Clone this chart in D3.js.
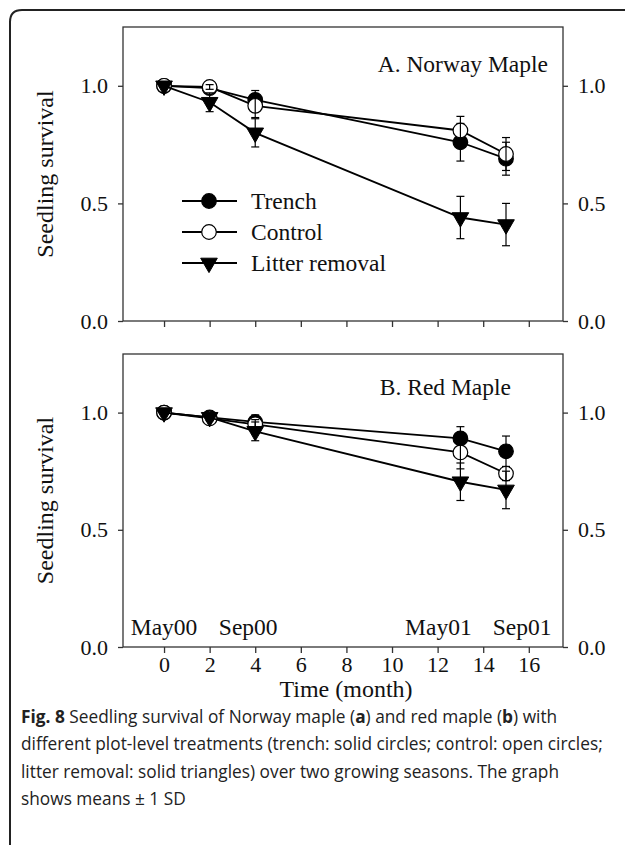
<!DOCTYPE html>
<html>
<head>
<meta charset="utf-8">
<script src="https://cdn.jsdelivr.net/npm/d3@7"></script>
<style>
  html, body { margin: 0; padding: 0; background: #fff; }
  svg { display: block; }
</style>
</head>
<body>
<svg id="fig" width="625" height="845"></svg>
<script>
// Sampling times (months since May 2000)
const months = [0, 2, 4, 13, 15];
const seriesNames = ["Trench", "Control", "Litter removal"];
const yTicks = [0, 0.5, 1.0];
const xTicks = [0, 2, 4, 6, 8, 10, 12, 14, 16];
const seasonLabels = ["May00", "Sep00", "May01", "Sep01"];
const seasonMonths = [0, 4, 13, 15];

// A. Norway maple: mean survival and SD
const norwayTrench = [1.00, 0.99, 0.94, 0.76, 0.69];
const norwayTrenchSD = [0, 0.01, 0.04, 0.08, 0.07];
const norwayControl = [1.00, 0.995, 0.915, 0.81, 0.71];
const norwayControlSD = [0, 0.01, 0.05, 0.06, 0.07];
const norwayLitter = [1.00, 0.93, 0.80, 0.44, 0.41];
const norwayLitterSD = [0, 0.04, 0.06, 0.09, 0.09];

// B. Red maple: mean survival and SD
const redTrench = [1.00, 0.98, 0.96, 0.89, 0.835];
const redTrenchSD = [0, 0.01, 0.03, 0.05, 0.065];
const redControl = [1.00, 0.975, 0.95, 0.83, 0.74];
const redControlSD = [0, 0.01, 0.02, 0.07, 0.03];
const redLitter = [1.00, 0.98, 0.92, 0.705, 0.67];
const redLitterSD = [0, 0.01, 0.04, 0.08, 0.08];

const serif = "'Liberation Serif', 'Times New Roman', Times, serif";
const svg = d3.select("#fig");

// Figure frame with rounded corner
svg.append("path")
  .attr("d", "M10,845 V22 Q10,10 22,10 H625")
  .attr("fill", "none").attr("stroke", "#222").attr("stroke-width", 2);

const x = d3.scaleLinear().domain([-1.8, 17.5]).range([123, 563]);

const panels = [
  { title: "A. Norway Maple", titleX: 548, titleY: 72, top: 27, bottom: 321,
    series: [
      { mean: norwayTrench, sd: norwayTrenchSD, shape: "filled" },
      { mean: norwayControl, sd: norwayControlSD, shape: "open" },
      { mean: norwayLitter, sd: norwayLitterSD, shape: "triangle" } ],
    xLabels: false, legend: true },
  { title: "B. Red Maple", titleX: 511, titleY: 395, top: 354, bottom: 647,
    series: [
      { mean: redTrench, sd: redTrenchSD, shape: "filled" },
      { mean: redControl, sd: redControlSD, shape: "open" },
      { mean: redLitter, sd: redLitterSD, shape: "triangle" } ],
    xLabels: true, legend: false }
];

const triangle = d3.symbol().type(d3.symbolTriangle).size(120);

function drawMarker(g, shape, cx, cy) {
  if (shape === "triangle") {
    g.append("path").attr("d", triangle())
      .attr("transform", `translate(${cx},${cy}) rotate(180)`)
      .attr("fill", "#000").attr("stroke", "#000").attr("stroke-width", 1);
  } else {
    g.append("circle").attr("cx", cx).attr("cy", cy).attr("r", 7.3)
      .attr("fill", shape === "filled" ? "#000" : "#fff")
      .attr("stroke", "#000").attr("stroke-width", 1.2);
  }
}

panels.forEach(p => {
  const y = d3.scaleLinear().domain([0, 1.25]).range([p.bottom, p.top]);
  const g = svg.append("g");

  // Frame of the plotting area
  g.append("rect").attr("x", x.range()[0]).attr("y", p.top)
    .attr("width", x.range()[1] - x.range()[0]).attr("height", p.bottom - p.top)
    .attr("fill", "none").attr("stroke", "#333").attr("stroke-width", 1.3);

  const styleAxis = a => {
    a.select(".domain").remove();
    a.selectAll("line").attr("stroke", "#333").attr("stroke-width", 1.3);
    a.selectAll("text").attr("font-family", serif).attr("font-size", 22).attr("fill", "#111");
  };

  g.append("g").attr("transform", `translate(${x.range()[0]},0)`)
    .call(d3.axisLeft(y).tickValues(yTicks).tickFormat(d3.format(".1f")).tickSize(5).tickPadding(10))
    .call(styleAxis);
  g.append("g").attr("transform", `translate(${x.range()[1]},0)`)
    .call(d3.axisRight(y).tickValues(yTicks).tickFormat(d3.format(".1f")).tickSize(5).tickPadding(10))
    .call(styleAxis);
  const xa = g.append("g").attr("transform", `translate(0,${p.bottom})`)
    .call(d3.axisBottom(x).tickValues(xTicks).tickSize(6).tickPadding(2)
      .tickFormat(p.xLabels ? d3.format("d") : () => ""))
    .call(styleAxis);
  xa.selectAll("text").attr("dy", "0.76em");

  // Y-axis title
  g.append("text").attr("transform", `translate(53,${(p.top + p.bottom) / 2}) rotate(-90)`)
    .attr("text-anchor", "middle").attr("font-family", serif).attr("font-size", 24)
    .attr("fill", "#111").text("Seedling survival");

  // Panel title
  g.append("text").attr("x", p.titleX).attr("y", p.titleY).attr("text-anchor", "end")
    .attr("font-family", serif).attr("font-size", 23.5).attr("fill", "#111").text(p.title);

  // Series: connecting line, symbols, then SD bars
  const line = d3.line().x(d => x(d[0])).y(d => y(d[1]));
  p.series.forEach(s => {
    const pts = months.map((m, i) => [m, s.mean[i], s.sd[i]]);
    const sg = g.append("g");
    sg.append("path").attr("d", line(pts)).attr("fill", "none")
      .attr("stroke", "#000").attr("stroke-width", 1.8);
    pts.forEach(d => drawMarker(sg, s.shape, x(d[0]), y(d[1])));
    pts.filter(d => d[2] > 0).forEach(d => {
      const cx = x(d[0]), y1 = y(d[1] + d[2]), y0 = y(d[1] - d[2]);
      sg.append("line").attr("x1", cx).attr("x2", cx).attr("y1", y0).attr("y2", y1)
        .attr("stroke", "#000").attr("stroke-width", 1.2);
      [y0, y1].forEach(yy => sg.append("line").attr("x1", cx - 4).attr("x2", cx + 4)
        .attr("y1", yy).attr("y2", yy).attr("stroke", "#000").attr("stroke-width", 1.2));
    });
  });

  // Legend
  if (p.legend) {
    const shapes = ["filled", "open", "triangle"];
    seriesNames.forEach((name, i) => {
      const ly = 201 + i * 31;
      g.append("line").attr("x1", 182).attr("x2", 237).attr("y1", ly).attr("y2", ly)
        .attr("stroke", "#000").attr("stroke-width", 1.8);
      drawMarker(g, shapes[i], 209, ly);
      g.append("text").attr("x", 251).attr("y", ly + 8).attr("font-family", serif)
        .attr("font-size", 23.5).attr("fill", "#111").text(name);
    });
  }

  // Season labels along the time axis, nudged so neighbours do not collide
  if (p.xLabels) {
    const offsets = [0, -7, -22, 16];
    seasonLabels.forEach((lab, i) => {
      g.append("text").attr("x", x(seasonMonths[i]) + offsets[i]).attr("y", 635)
        .attr("text-anchor", "middle").attr("font-family", serif).attr("font-size", 23.5)
        .attr("fill", "#111").text(lab);
    });
    g.append("text").attr("x", 346).attr("y", 697).attr("text-anchor", "middle")
      .attr("font-family", serif).attr("font-size", 24).attr("fill", "#111").text("Time (month)");
  }
});

// Caption
const capLines = [
  [["Fig. 8", true], [" Seedling survival of Norway maple (", false], ["a", true],
   [") and red maple (", false], ["b", true], [") with", false]],
  [["different plot-level treatments (trench: solid circles; control: open circles;", false]],
  [["litter removal: solid triangles) over two growing seasons. The graph", false]],
  [["shows means \u00b1 1 SD", false]]
];
const capOuter = svg.append("g").attr("transform", "translate(21,0)");
const cap = capOuter.append("g").attr("font-family", "'Open Sans', 'Noto Sans', sans-serif")
  .attr("fill", "#222").attr("font-size", 18);
const capTexts = capLines.map((parts, i) => {
  const t = cap.append("text").attr("x", 0).attr("y", 723 + i * 27.5);
  parts.forEach(([s, b]) => t.append("tspan").attr("font-weight", b ? 700 : 400).text(s));
  return t;
});
// Condense the caption face so the second line spans the text block width
const w = capTexts[1].node().getComputedTextLength();
cap.attr("transform", `scale(${582 / w},1)`);
</script>
</body>
</html>
